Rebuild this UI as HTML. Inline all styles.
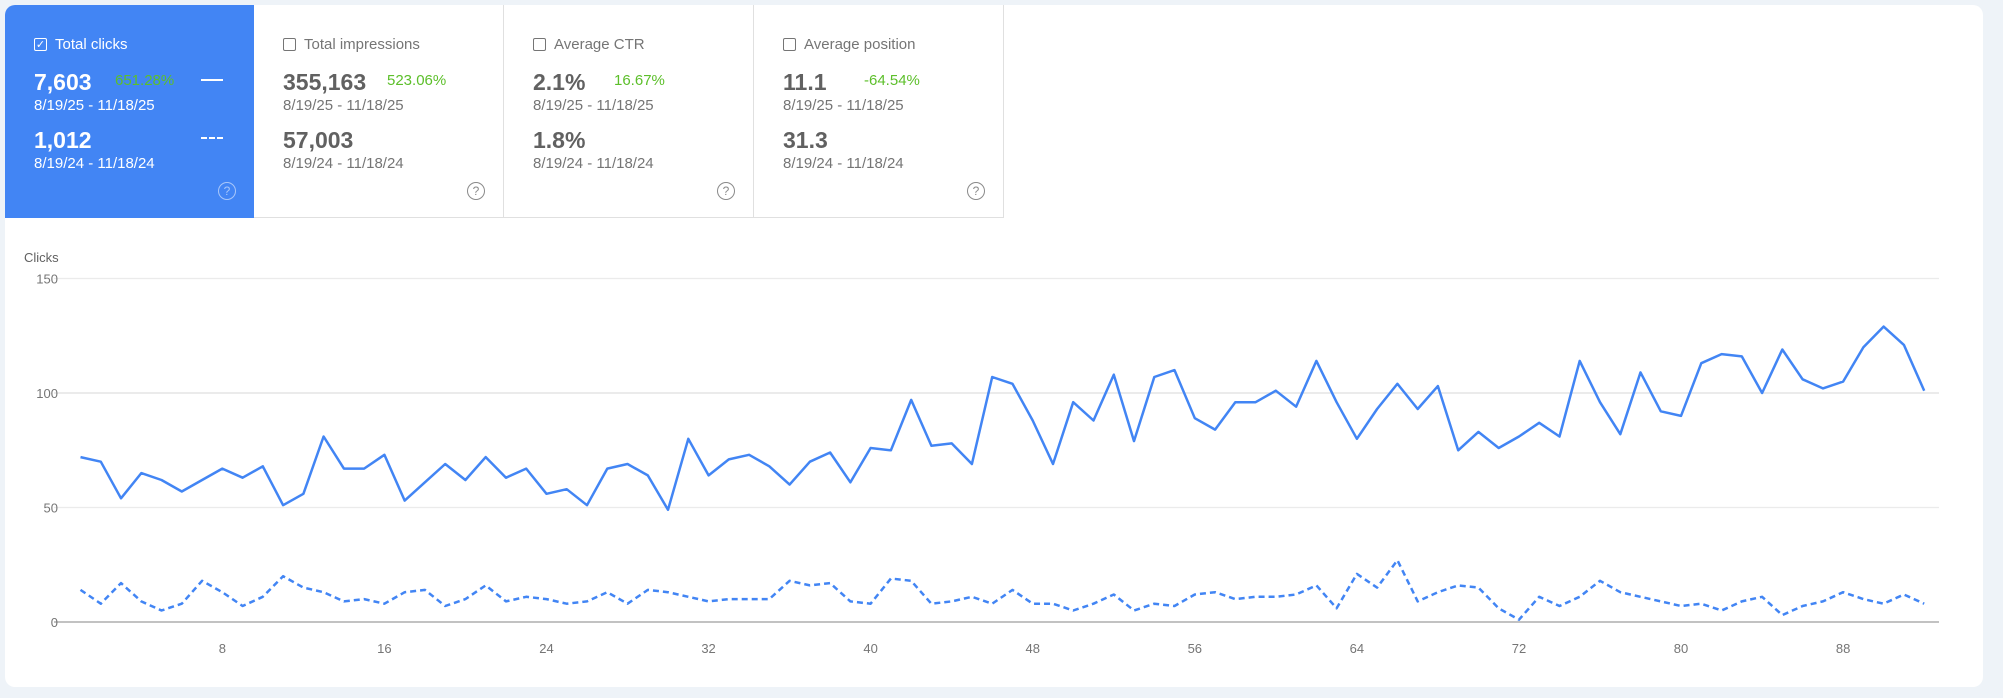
<!DOCTYPE html>
<html><head><meta charset="utf-8"><style>
body{margin:0;width:2003px;height:698px;background:#eef3f8;font-family:"Liberation Sans",sans-serif;overflow:hidden;position:relative}
.card{position:absolute;left:5px;top:5px;width:1978px;height:682px;background:#fff;border-radius:10px;overflow:hidden}
.m{position:absolute;top:0;width:250px;height:213px;border-right:1px solid #e0e0e0;border-bottom:1px solid #e0e0e0;box-sizing:border-box;color:#757575}
.m.sel{background:#4285f4;color:#fff;border:none}
.lbl{position:absolute;left:29px;top:31px;font-size:15px;display:flex;align-items:center}
.cb{width:13px;height:13px;border:1.5px solid #757575;border-radius:2px;margin-right:8px;box-sizing:border-box;display:inline-flex;align-items:center;justify-content:center;font-size:11px}
.sel .cb{border-color:#fff}
.big{position:absolute;left:29px;font-size:23px;font-weight:bold;color:#616161}
.sel .big{color:#fff}
.pct{position:absolute;font-size:15px;color:#5cbf2a}
.dt{position:absolute;left:29px;font-size:15px}
.help{position:absolute;left:213px;top:177px;width:16px;height:16px;border:1.5px solid #8a8a8a;border-radius:50%;font-size:12px;text-align:center;line-height:16px;color:#8a8a8a}
.sel .help{border-color:#a9c7fa;color:#a9c7fa}
</style></head><body>
<div class="card">
 <div class="m sel" style="left:0;width:249px">
  <div class="lbl"><span class="cb">✓</span>Total clicks</div>
  <div class="big" style="top:64px">7,603</div>
  <div class="pct" style="left:110px;top:67px">651.28%</div>
  <div style="position:absolute;left:196px;top:74px;width:22px;height:2px;background:#fff"></div>
  <div class="dt" style="top:92px">8/19/25 - 11/18/25</div>
  <div class="big" style="top:122px">1,012</div>
  <div style="position:absolute;left:196px;top:132px;width:22px;height:0;border-top:2px dashed #fff"></div>
  <div class="dt" style="top:150px">8/19/24 - 11/18/24</div>
  <div class="help">?</div>
 </div>
 <div class="m" style="left:249px">
  <div class="lbl"><span class="cb"></span>Total impressions</div>
  <div class="big" style="top:64px">355,163</div>
  <div class="pct" style="left:133px;top:67px">523.06%</div>
  <div class="dt" style="top:92px">8/19/25 - 11/18/25</div>
  <div class="big" style="top:122px">57,003</div>
  <div class="dt" style="top:150px">8/19/24 - 11/18/24</div>
  <div class="help">?</div>
 </div>
 <div class="m" style="left:499px">
  <div class="lbl"><span class="cb"></span>Average CTR</div>
  <div class="big" style="top:64px">2.1%</div>
  <div class="pct" style="left:110px;top:67px">16.67%</div>
  <div class="dt" style="top:92px">8/19/25 - 11/18/25</div>
  <div class="big" style="top:122px">1.8%</div>
  <div class="dt" style="top:150px">8/19/24 - 11/18/24</div>
  <div class="help">?</div>
 </div>
 <div class="m" style="left:749px">
  <div class="lbl"><span class="cb"></span>Average position</div>
  <div class="big" style="top:64px">11.1</div>
  <div class="pct" style="left:110px;top:67px">-64.54%</div>
  <div class="dt" style="top:92px">8/19/25 - 11/18/25</div>
  <div class="big" style="top:122px">31.3</div>
  <div class="dt" style="top:150px">8/19/24 - 11/18/24</div>
  <div class="help">?</div>
 </div>
</div>
<svg id="chart" width="2003" height="698" style="position:absolute;left:0;top:0"></svg>
<script>
const current=[72,70,54,65,62,57,62,67,63,68,51,56,81,67,67,73,53,61,69,62,72,63,67,56,58,51,67,69,64,49,80,64,71,73,68,60,70,74,61,76,75,97,77,78,69,107,104,88,69,96,88,108,79,107,110,89,84,96,96,101,94,114,96,80,93,104,93,103,75,83,76,81,87,81,114,96,82,109,92,90,113,117,116,100,119,106,102,105,120,129,121,101];
const previous=[14,8,17,9,5,8,18,13,7,11,20,15,13,9,10,8,13,14,7,10,16,9,11,10,8,9,13,8,14,13,11,9,10,10,10,18,16,17,9,8,19,18,8,9,11,8,14,8,8,5,8,12,5,8,7,12,13,10,11,11,12,16,6,21,15,27,9,13,16,15,6,1,11,7,11,18,13,11,9,7,8,5,9,11,3,7,9,13,10,8,12,8];
const yTicks=[0,50,100,150];
const xTicks=[8,16,24,32,40,48,56,64,72,80,88];
const NS='http://www.w3.org/2000/svg';
const svg=document.getElementById('chart');
const x0=54,x1=1939,y0=622,y150=278.5;
const xs=d=>80.5+(d-1)*20.26;
const ys=v=>y0-(v/150)*(y0-y150);
function mk(t,a){const e=document.createElementNS(NS,t);for(const k in a)e.setAttribute(k,a[k]);svg.appendChild(e);return e;}
const cl=mk('text',{x:24,y:262,'font-size':13,fill:'#616161','font-family':'Liberation Sans'});cl.textContent='Clicks';


yTicks.forEach(v=>{
 const g=mk('line',{x1:x0,x2:x1,y1:ys(v),y2:ys(v),stroke:v===0?'#9e9e9e':'#ebebeb','stroke-width':v===100?2:1.3});
 
 
 const t=mk('text',{x:58,y:ys(v)+5,'text-anchor':'end','font-size':13,fill:'#757575','font-family':'Liberation Sans'});t.textContent=v;
 
 
});
xTicks.forEach(d=>{
 const t=mk('text',{x:xs(d),y:653,'text-anchor':'middle','font-size':13,fill:'#757575','font-family':'Liberation Sans'});t.textContent=d;
 
 
});
const pts=a=>a.map((v,i)=>xs(i+1).toFixed(1)+','+ys(v).toFixed(1)).join(' ');
const p2=mk('polyline',{points:pts(previous),fill:'none',stroke:'#4285f4','stroke-width':2.5,'stroke-dasharray':'6,4','stroke-linejoin':'round'});


const p1=mk('polyline',{points:pts(current),fill:'none',stroke:'#4285f4','stroke-width':2.5,'stroke-linejoin':'round'});


</script>
</body></html>
